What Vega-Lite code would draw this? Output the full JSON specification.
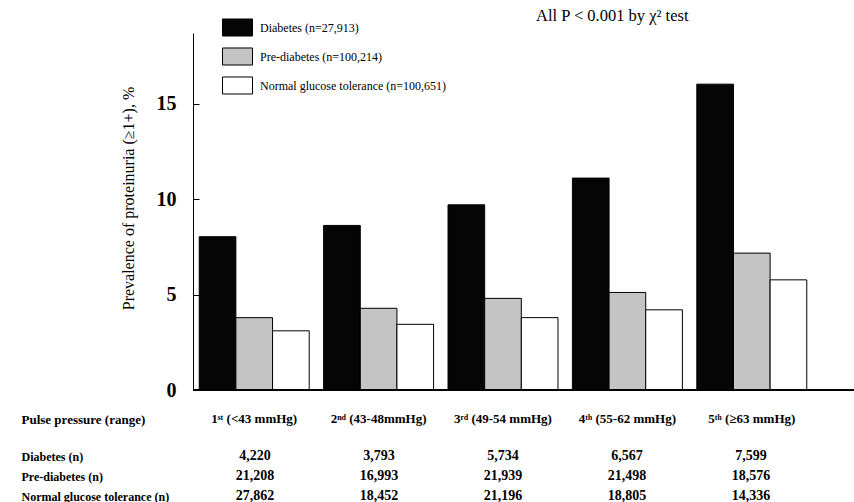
{
  "$schema": "https://vega.github.io/schema/vega-lite/v6.json",
  "background": "white",
  "padding": {"left": 21, "top": 7, "right": 0, "bottom": 0},
  "config": {"font": "Liberation Serif", "view": {"stroke": null}},
  "spacing": 20,
  "datasets": {
    "bars": [
      {"group": "1ˢᵗ (<43 mmHg)", "status": "Diabetes (n=27,913)", "value": 8.03},
      {"group": "1ˢᵗ (<43 mmHg)", "status": "Pre-diabetes (n=100,214)", "value": 3.79},
      {"group": "1ˢᵗ (<43 mmHg)", "status": "Normal glucose tolerance (n=100,651)", "value": 3.10},
      {"group": "2ⁿᵈ (43-48mmHg)", "status": "Diabetes (n=27,913)", "value": 8.62},
      {"group": "2ⁿᵈ (43-48mmHg)", "status": "Pre-diabetes (n=100,214)", "value": 4.28},
      {"group": "2ⁿᵈ (43-48mmHg)", "status": "Normal glucose tolerance (n=100,651)", "value": 3.44},
      {"group": "3ʳᵈ (49-54 mmHg)", "status": "Diabetes (n=27,913)", "value": 9.70},
      {"group": "3ʳᵈ (49-54 mmHg)", "status": "Pre-diabetes (n=100,214)", "value": 4.80},
      {"group": "3ʳᵈ (49-54 mmHg)", "status": "Normal glucose tolerance (n=100,651)", "value": 3.79},
      {"group": "4ᵗʰ (55-62 mmHg)", "status": "Diabetes (n=27,913)", "value": 11.10},
      {"group": "4ᵗʰ (55-62 mmHg)", "status": "Pre-diabetes (n=100,214)", "value": 5.11},
      {"group": "4ᵗʰ (55-62 mmHg)", "status": "Normal glucose tolerance (n=100,651)", "value": 4.20},
      {"group": "5ᵗʰ (≥63 mmHg)", "status": "Diabetes (n=27,913)", "value": 16.02},
      {"group": "5ᵗʰ (≥63 mmHg)", "status": "Pre-diabetes (n=100,214)", "value": 7.17},
      {"group": "5ᵗʰ (≥63 mmHg)", "status": "Normal glucose tolerance (n=100,651)", "value": 5.77}
    ],
    "table": [
      {"group": "1ˢᵗ (<43 mmHg)", "row": "Diabetes (n)", "n": 4220},
      {"group": "1ˢᵗ (<43 mmHg)", "row": "Pre-diabetes (n)", "n": 21208},
      {"group": "1ˢᵗ (<43 mmHg)", "row": "Normal glucose tolerance (n)", "n": 27862},
      {"group": "2ⁿᵈ (43-48mmHg)", "row": "Diabetes (n)", "n": 3793},
      {"group": "2ⁿᵈ (43-48mmHg)", "row": "Pre-diabetes (n)", "n": 16993},
      {"group": "2ⁿᵈ (43-48mmHg)", "row": "Normal glucose tolerance (n)", "n": 18452},
      {"group": "3ʳᵈ (49-54 mmHg)", "row": "Diabetes (n)", "n": 5734},
      {"group": "3ʳᵈ (49-54 mmHg)", "row": "Pre-diabetes (n)", "n": 21939},
      {"group": "3ʳᵈ (49-54 mmHg)", "row": "Normal glucose tolerance (n)", "n": 21196},
      {"group": "4ᵗʰ (55-62 mmHg)", "row": "Diabetes (n)", "n": 6567},
      {"group": "4ᵗʰ (55-62 mmHg)", "row": "Pre-diabetes (n)", "n": 21498},
      {"group": "4ᵗʰ (55-62 mmHg)", "row": "Normal glucose tolerance (n)", "n": 18805},
      {"group": "5ᵗʰ (≥63 mmHg)", "row": "Diabetes (n)", "n": 7599},
      {"group": "5ᵗʰ (≥63 mmHg)", "row": "Pre-diabetes (n)", "n": 18576},
      {"group": "5ᵗʰ (≥63 mmHg)", "row": "Normal glucose tolerance (n)", "n": 14336}
    ]
  },
  "vconcat": [
    {
      "width": 661,
      "height": 357,
      "title": {"text": "All P < 0.001 by χ² test", "anchor": "start", "frame": "group", "dx": 343, "fontSize": 16.5, "fontWeight": "normal", "font": "Liberation Serif", "color": "black", "offset": 9},
      "data": {"name": "bars"},
      "layer": [
        {
          "mark": {"type": "bar", "stroke": "black", "strokeWidth": 1},
          "encoding": {
            "x": {
              "field": "group", "type": "nominal",
              "scale": {"domain": ["1ˢᵗ (<43 mmHg)", "2ⁿᵈ (43-48mmHg)", "3ʳᵈ (49-54 mmHg)", "4ᵗʰ (55-62 mmHg)", "5ᵗʰ (≥63 mmHg)"], "range": [0, 620], "paddingInner": 0.116, "paddingOuter": 0.05},
              "axis": {
                "domain": false, "ticks": false, "labelAngle": 0, "labelFontSize": 13, "labelFontWeight": "bold", "labelColor": "black", "labelPadding": 22,
                "title": "Pulse pressure  (range)", "titleFontSize": 13, "titleFontWeight": "bold", "titleColor": "black",
                "titleX": -172, "titleY": 29, "titleAlign": "left", "titleBaseline": "middle", "titleAnchor": null
              }
            },
            "xOffset": {"field": "status", "type": "nominal", "sort": ["Diabetes (n=27,913)", "Pre-diabetes (n=100,214)", "Normal glucose tolerance (n=100,651)"], "scale": {"paddingInner": 0, "paddingOuter": 0}},
            "y": {
              "field": "value", "type": "quantitative",
              "scale": {"domain": [0, 18.7], "nice": false},
              "axis": {
                "values": [0, 5, 10, 15], "grid": false, "domainColor": "black", "tickColor": "black", "tickSize": -6,
                "labelFontSize": 20, "labelFontWeight": "bold", "labelColor": "black", "labelPadding": 23,
                "title": "Prevalence of proteinuria (≥1+), %", "titleFontSize": 16, "titleFontWeight": "normal", "titleColor": "black", "titlePadding": 20, "titleY": 165
              }
            },
            "fill": {
              "field": "status", "type": "nominal",
              "scale": {"domain": ["Diabetes (n=27,913)", "Pre-diabetes (n=100,214)", "Normal glucose tolerance (n=100,651)"], "range": ["#050505", "#c4c4c4", "#ffffff"]},
              "legend": {
                "orient": "none", "legendX": 29, "legendY": -21, "title": null, "padding": 0,
                "symbolType": "M-1,-0.567L1,-0.567L1,0.567L-1,0.567Z", "symbolSize": 900,
                "symbolStrokeColor": "black", "symbolStrokeWidth": 1, "symbolOpacity": 1,
                "labelFontSize": 12, "labelFont": "Liberation Serif", "labelColor": "black", "labelOffset": 7, "labelLimit": 0, "rowPadding": 2
              }
            }
          }
        },
        {
          "mark": {"type": "rule", "color": "black", "strokeWidth": 1},
          "encoding": {"y": {"datum": 0}}
        }
      ]
    },
    {
      "width": 661,
      "height": 60,
      "data": {"name": "table"},
      "mark": {"type": "text", "fontWeight": "bold", "fontSize": 14, "color": "black"},
      "encoding": {
        "x": {
          "field": "group", "type": "nominal",
          "scale": {"domain": ["1ˢᵗ (<43 mmHg)", "2ⁿᵈ (43-48mmHg)", "3ʳᵈ (49-54 mmHg)", "4ᵗʰ (55-62 mmHg)", "5ᵗʰ (≥63 mmHg)"], "range": [0, 620], "paddingInner": 0.116, "paddingOuter": 0.05},
          "axis": null
        },
        "y": {
          "field": "row", "type": "nominal",
          "sort": ["Diabetes (n)", "Pre-diabetes (n)", "Normal glucose tolerance (n)"],
          "scale": {"type": "point", "padding": 0.5},
          "axis": {"domain": false, "ticks": false, "labelAlign": "left", "labelPadding": 172, "labelFontWeight": "bold", "labelFontSize": 12, "labelColor": "black", "title": null}
        },
        "text": {"field": "n", "type": "quantitative", "format": ",d"}
      }
    }
  ]
}
